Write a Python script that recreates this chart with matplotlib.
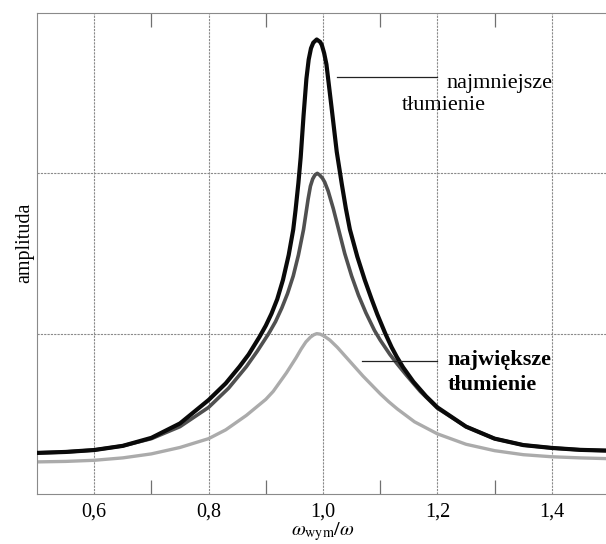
import matplotlib
matplotlib.use("Agg")
import matplotlib.pyplot as plt
from matplotlib.ticker import FixedLocator

plt.rcParams["font.family"] = ["Liberation Serif", "DejaVu Serif"]
plt.rcParams["mathtext.fontset"] = "stix"

# najmniejsze tlumienie (black)
x_low = [0.50, 0.55, 0.60, 0.65, 0.70, 0.75, 0.80, 0.83, 0.854, 0.87, 0.889, 0.90, 0.91,
         0.92, 0.93, 0.94, 0.948, 0.952, 0.957, 0.961, 0.966, 0.971, 0.975, 0.979, 0.983,
         0.989, 0.995, 0.998, 1.002, 1.006, 1.015, 1.024, 1.033, 1.040, 1.047, 1.060,
         1.073, 1.085, 1.095, 1.109, 1.12, 1.129, 1.14, 1.158, 1.18, 1.20, 1.25, 1.30,
         1.35, 1.40, 1.45, 1.50]
y_low = [0.256, 0.262, 0.274, 0.30, 0.35, 0.44, 0.586, 0.69, 0.794, 0.87, 0.98, 1.05, 1.125,
         1.215, 1.335, 1.49, 1.65, 1.77, 1.94, 2.10, 2.36, 2.59, 2.71, 2.78, 2.815,
         2.835, 2.82, 2.80, 2.75, 2.68, 2.41, 2.135, 1.93, 1.78, 1.65, 1.48,
         1.335, 1.215, 1.12, 1.0, 0.915, 0.855, 0.79, 0.70, 0.61, 0.54, 0.42, 0.345,
         0.305, 0.287, 0.275, 0.27]

# posrednie tlumienie (dark grey)
x_mid = [0.50, 0.55, 0.60, 0.65, 0.70, 0.75, 0.80, 0.835, 0.866, 0.885, 0.905, 0.917,
         0.928, 0.938, 0.948, 0.957, 0.966, 0.974, 0.978, 0.982, 0.986, 0.990, 0.994,
         0.999, 1.003, 1.009, 1.018, 1.028, 1.038, 1.050, 1.062, 1.075, 1.090, 1.10,
         1.117, 1.13, 1.146, 1.17, 1.20, 1.25, 1.30, 1.35, 1.40, 1.45, 1.50]
y_mid = [0.256, 0.262, 0.274, 0.30, 0.345, 0.42, 0.54, 0.66, 0.794, 0.89, 1.0, 1.075,
         1.16, 1.25, 1.36, 1.49, 1.65, 1.84, 1.92, 1.965, 1.99, 2.0, 1.99,
         1.97, 1.945, 1.89, 1.78, 1.64, 1.50, 1.36, 1.24, 1.13, 1.02, 0.96,
         0.87, 0.81, 0.74, 0.64, 0.535, 0.42, 0.345, 0.305, 0.287, 0.275, 0.27]

# najwieksze tlumienie (light grey)
x_high = [0.50, 0.55, 0.60, 0.65, 0.70, 0.75, 0.80, 0.83, 0.866, 0.90, 0.913, 0.936,
          0.953, 0.962, 0.970, 0.978, 0.984, 0.989, 0.995, 1.002, 1.012, 1.025, 1.040,
          1.055, 1.070, 1.085, 1.10, 1.115, 1.13, 1.16, 1.20, 1.25, 1.30, 1.35, 1.40,
          1.45, 1.50]
y_high = [0.20, 0.203, 0.21, 0.225, 0.25, 0.29, 0.345, 0.40, 0.49, 0.59, 0.64, 0.755,
          0.85, 0.905, 0.948, 0.978, 0.993, 1.0, 0.997, 0.985, 0.96, 0.915, 0.855,
          0.795, 0.735, 0.68, 0.625, 0.575, 0.53, 0.45, 0.375, 0.31, 0.27, 0.245, 0.232,
          0.225, 0.22]

xticks = [0.6, 0.8, 1.0, 1.2, 1.4]
xtick_labels = ["0,6", "0,8", "1,0", "1,2", "1,4"]
minor_ticks = [0.7, 0.9, 1.1, 1.3]

fig = plt.figure(figsize=(6.06, 5.44), dpi=100)
ax = fig.add_axes([0.061, 0.092, 0.944, 0.884])

grid_kw = dict(color="#8a8a8a", lw=0.8, ls=(0, (2, 1)), zorder=0)
for gx in xticks:
    ax.axvline(gx, **grid_kw)
for gy in [1, 2]:
    ax.axhline(gy, **grid_kw)

line_kw = dict(solid_capstyle="round", solid_joinstyle="round")
ax.plot(x_high, y_high, color="#ababab", lw=2.4, zorder=2, **line_kw)
ax.plot(x_mid, y_mid, color="#505050", lw=2.6, zorder=3, **line_kw)
ax.plot(x_low, y_low, color="#0a0a0a", lw=3.0, zorder=4, **line_kw)

ax.set_xlim(0.5, 1.5)
ax.set_ylim(0, 3)
ax.set_xticks(xticks)
ax.set_xticklabels(xtick_labels, fontsize=14.5)
ax.xaxis.set_minor_locator(FixedLocator(minor_ticks))
ax.set_yticks([])
ax.tick_params(axis="x", which="major", length=0, pad=6)
ax.tick_params(axis="x", which="minor", direction="in", length=10, width=0.9,
               color="#707070", top=True, bottom=True)
for s in ax.spines.values():
    s.set_color("#8a8a8a")
    s.set_linewidth(0.8)
    s.set_linestyle((0, (2, 1)))

ax.set_xlabel(r"$\omega_{\mathrm{wym}}/\omega$", fontsize=14.5, labelpad=-1)
ax.set_ylabel("amplituda", fontsize=14.5)
ax.yaxis.set_label_coords(-0.004, 0.522)

ax.plot([1.024, 1.199], [2.60, 2.60], color="#222222", lw=0.9, zorder=5)
ax.text(1.2166, 2.533, "najmniejsze", fontsize=16, va="baseline", ha="left")
ax.text(1.138, 2.395, "tłumienie", fontsize=16, va="baseline", ha="left")

ax.plot([1.069, 1.200], [0.83, 0.83], color="#222222", lw=0.9, zorder=5)
ax.text(1.218, 0.805, "największe", fontsize=16, fontweight="bold", va="baseline", ha="left")
ax.text(1.218, 0.649, "tłumienie", fontsize=16, fontweight="bold", va="baseline", ha="left")

fig.savefig("out.png", dpi=100)
